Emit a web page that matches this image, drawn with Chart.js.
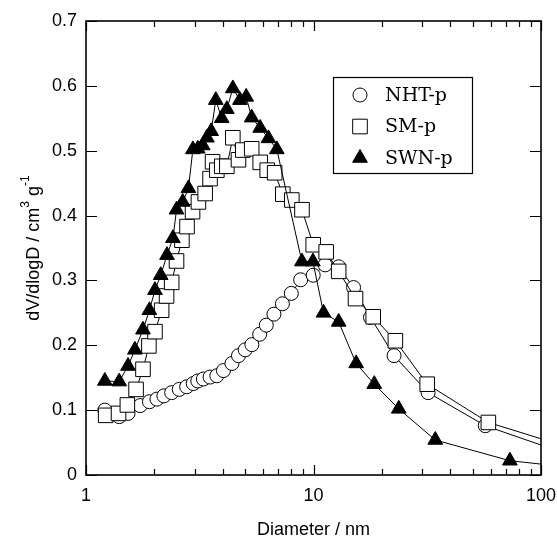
<!DOCTYPE html>
<html>
<head>
<meta charset="utf-8">
<script src="https://cdn.jsdelivr.net/npm/chart.js@4.4.1/dist/chart.umd.min.js"></script>
<style>
  html, body { margin: 0; padding: 0; background: #fff; }
</style>
</head>
<body>
<canvas id="psdChart" width="557" height="541"></canvas>
<script>
// pore size distribution data
const nhtDiam = [1.21, 1.40, 1.53, 1.73, 1.90, 2.05, 2.20, 2.38, 2.57, 2.77, 2.96, 3.10, 3.28, 3.51, 3.76, 4.02, 4.38, 4.68, 5.01, 5.36, 5.80, 6.20, 6.70, 7.30, 7.99, 8.78, 9.97, 11.25, 12.9, 15.0, 17.8, 22.6, 31.9, 56.9, 126];
const nhtVal  = [0.100, 0.090, 0.095, 0.107, 0.113, 0.117, 0.122, 0.127, 0.132, 0.136, 0.141, 0.145, 0.148, 0.151, 0.153, 0.161, 0.172, 0.184, 0.193, 0.201, 0.217, 0.231, 0.248, 0.264, 0.280, 0.301, 0.308, 0.324, 0.321, 0.289, 0.243, 0.184, 0.127, 0.076, 0.034];

const smDiam = [1.22, 1.39, 1.52, 1.66, 1.78, 1.89, 2.01, 2.15, 2.26, 2.38, 2.50, 2.64, 2.78, 2.94, 3.12, 3.34, 3.51, 3.60, 3.76, 3.95, 4.16, 4.42, 4.68, 4.89, 5.35, 5.83, 6.26, 6.75, 7.33, 8.03, 8.90, 9.97, 11.37, 12.9, 15.3, 18.3, 22.9, 31.6, 58.7, 126];
const smVal  = [0.092, 0.095, 0.108, 0.132, 0.163, 0.199, 0.221, 0.254, 0.276, 0.297, 0.330, 0.362, 0.383, 0.406, 0.421, 0.434, 0.457, 0.483, 0.470, 0.476, 0.476, 0.520, 0.486, 0.501, 0.503, 0.482, 0.470, 0.466, 0.433, 0.424, 0.409, 0.355, 0.344, 0.314, 0.272, 0.244, 0.207, 0.140, 0.081, 0.045];

const swnDiam = [1.21, 1.40, 1.53, 1.64, 1.78, 1.90, 2.01, 2.13, 2.27, 2.41, 2.50, 2.66, 2.82, 2.95, 3.10, 3.26, 3.40, 3.55, 3.72, 3.95, 4.16, 4.42, 4.75, 5.06, 5.35, 5.83, 6.34, 6.90, 8.89, 9.94, 11.07, 12.9, 15.4, 18.5, 23.7, 34.3, 73, 126];
const swnVal  = [0.145, 0.144, 0.168, 0.193, 0.224, 0.254, 0.285, 0.308, 0.339, 0.365, 0.409, 0.421, 0.442, 0.502, 0.503, 0.508, 0.520, 0.530, 0.578, 0.550, 0.564, 0.596, 0.578, 0.583, 0.551, 0.535, 0.519, 0.502, 0.329, 0.329, 0.250, 0.236, 0.172, 0.140, 0.102, 0.054, 0.022, 0.013];

const seriesNames = ['NHT-p', 'SM-p', 'SWN-p'];
const xTickLabels = [1, 10, 100];
const yTickLabels = [0, 0.1, 0.2, 0.3, 0.4, 0.5, 0.6, 0.7];

function pairUp(xs, ys) {
    return xs.map((x, i) => ({ x: x, y: ys[i] }));
}

// draws the small marker shapes for the legend
function marker(ctx, style, x, y, fill) {
    ctx.beginPath();
    if (style === 'circle') {
        ctx.arc(x, y, 7, 0, Math.PI * 2);
    } else if (style === 'rect') {
        ctx.rect(x - 7.3, y - 7.3, 14.6, 14.6);
    } else {
        const r = 8.5;
        ctx.moveTo(x, y - r);
        ctx.lineTo(x + r * 0.866, y + r / 2);
        ctx.lineTo(x - r * 0.866, y + r / 2);
        ctx.closePath();
    }
    ctx.fillStyle = fill;
    ctx.fill();
    ctx.lineWidth = 1;
    ctx.strokeStyle = '#000';
    ctx.stroke();
}

// frame, inward ticks, y title with superscripts, legend box
const decorations = {
    id: 'decorations',
    afterDatasetsDraw(chart) {
        const ctx = chart.ctx;
        const a = chart.chartArea;
        const xs = chart.scales.x;
        const ys = chart.scales.y;
        ctx.save();
        ctx.strokeStyle = '#000';

        // frame
        ctx.lineWidth = 1.6;
        ctx.strokeRect(a.left, a.top, a.right - a.left, a.bottom - a.top);

        // x ticks (log), top and bottom
        ctx.lineWidth = 1.2;
        ctx.beginPath();
        for (let dec = 1; dec < 100; dec *= 10) {
            for (let m = 1; m <= 10; m++) {
                const v = dec * m;
                const px = Math.round(xs.getPixelForValue(v)) + 0.5;
                const len = (m === 1 || m === 10) ? 10 : 6;
                ctx.moveTo(px, a.bottom); ctx.lineTo(px, a.bottom - len);
                ctx.moveTo(px, a.top); ctx.lineTo(px, a.top + len);
            }
        }
        // y ticks, left and right
        yTickLabels.forEach(v => {
            const py = Math.round(ys.getPixelForValue(v)) + 0.5;
            ctx.moveTo(a.left, py); ctx.lineTo(a.left + 11, py);
            ctx.moveTo(a.right, py); ctx.lineTo(a.right - 11, py);
        });
        ctx.stroke();

        // y axis title
        const parts = [
            ['dV/dlogD / cm', false],
            ['3', true],
            [' g', false],
            ['-1', true]
        ];
        const bigFont = "18px 'Liberation Sans'";
        const smallFont = "12px 'Liberation Sans'";
        let total = 0;
        parts.forEach(p => {
            ctx.font = p[1] ? smallFont : bigFont;
            total += ctx.measureText(p[0]).width;
        });
        ctx.translate(34, (a.top + a.bottom) / 2);
        ctx.rotate(-Math.PI / 2);
        ctx.fillStyle = '#000';
        ctx.textBaseline = 'middle';
        ctx.textAlign = 'left';
        let cx = -total / 2;
        parts.forEach(p => {
            ctx.font = p[1] ? smallFont : bigFont;
            ctx.fillText(p[0], cx, p[1] ? -8 : 0);
            cx += ctx.measureText(p[0]).width;
        });
        ctx.setTransform(1, 0, 0, 1, 0, 0);

        // legend
        ctx.lineWidth = 1.2;
        ctx.fillStyle = '#fff';
        ctx.fillRect(333, 77, 139, 96);
        ctx.strokeRect(333.5, 77.5, 139, 96);
        ctx.font = "19px 'DejaVu Serif'";
        ctx.textBaseline = 'middle';
        chart.data.datasets.forEach((ds, i) => {
            const yy = 95 + i * 31.5;
            marker(ctx, ds.pointStyle, 360, yy, ds.pointBackgroundColor);
            ctx.fillStyle = '#000';
            ctx.fillText(ds.label, 385, yy + 1);
        });
        ctx.restore();
    }
};

const ctx = document.getElementById('psdChart').getContext('2d');

const psdChart = new Chart(ctx, {
    type: 'line',
    data: {
        datasets: [
            {
                label: seriesNames[0],
                data: pairUp(nhtDiam, nhtVal),
                pointStyle: 'circle',
                pointRadius: 7,
                pointBackgroundColor: '#fff',
                pointBorderColor: '#000',
                pointBorderWidth: 1,
                borderColor: '#000',
                borderWidth: 1,
                tension: 0,
                fill: false,
                order: 3
            },
            {
                label: seriesNames[1],
                data: pairUp(smDiam, smVal),
                pointStyle: 'rect',
                pointRadius: 10.3,
                pointBackgroundColor: '#fff',
                pointBorderColor: '#000',
                pointBorderWidth: 1,
                borderColor: '#000',
                borderWidth: 1,
                tension: 0,
                fill: false,
                order: 2
            },
            {
                label: seriesNames[2],
                data: pairUp(swnDiam, swnVal),
                pointStyle: 'triangle',
                pointRadius: 8.5,
                pointBackgroundColor: '#000',
                pointBorderColor: '#000',
                pointBorderWidth: 1,
                borderColor: '#000',
                borderWidth: 1,
                tension: 0,
                fill: false,
                order: 1
            }
        ]
    },
    options: {
        responsive: false,
        animation: false,
        events: [],
        layout: { padding: { left: 0, right: 16, top: 21, bottom: 0 } },
        plugins: {
            legend: { display: false },
            tooltip: { enabled: false }
        },
        scales: {
            x: {
                type: 'logarithmic',
                min: 1,
                max: 100,
                grid: { display: false, drawTicks: false },
                border: { display: false },
                afterFit: s => { s.height = 66; s.paddingLeft = 0; s.paddingRight = 0; },
                ticks: {
                    autoSkip: false,
                    maxRotation: 0,
                    padding: 10,
                    color: '#000',
                    font: { family: 'Liberation Sans', size: 18 },
                    callback: v => xTickLabels.includes(v) ? String(v) : ''
                },
                title: {
                    display: true,
                    text: 'Diameter / nm',
                    color: '#000',
                    font: { family: 'Liberation Sans', size: 18 },
                    padding: { top: 0, bottom: 0 }
                }
            },
            y: {
                min: 0,
                max: 0.7,
                grid: { display: false, drawTicks: false },
                border: { display: false },
                afterFit: s => { s.width = 86; s.paddingTop = 0; s.paddingBottom = 0; },
                ticks: {
                    stepSize: 0.1,
                    padding: 9,
                    color: '#000',
                    font: { family: 'Liberation Sans', size: 18 },
                    callback: v => Math.abs(v) < 1e-9 ? '0' : v.toFixed(1)
                }
            }
        }
    },
    plugins: [decorations]
});
</script>
</body>
</html>
